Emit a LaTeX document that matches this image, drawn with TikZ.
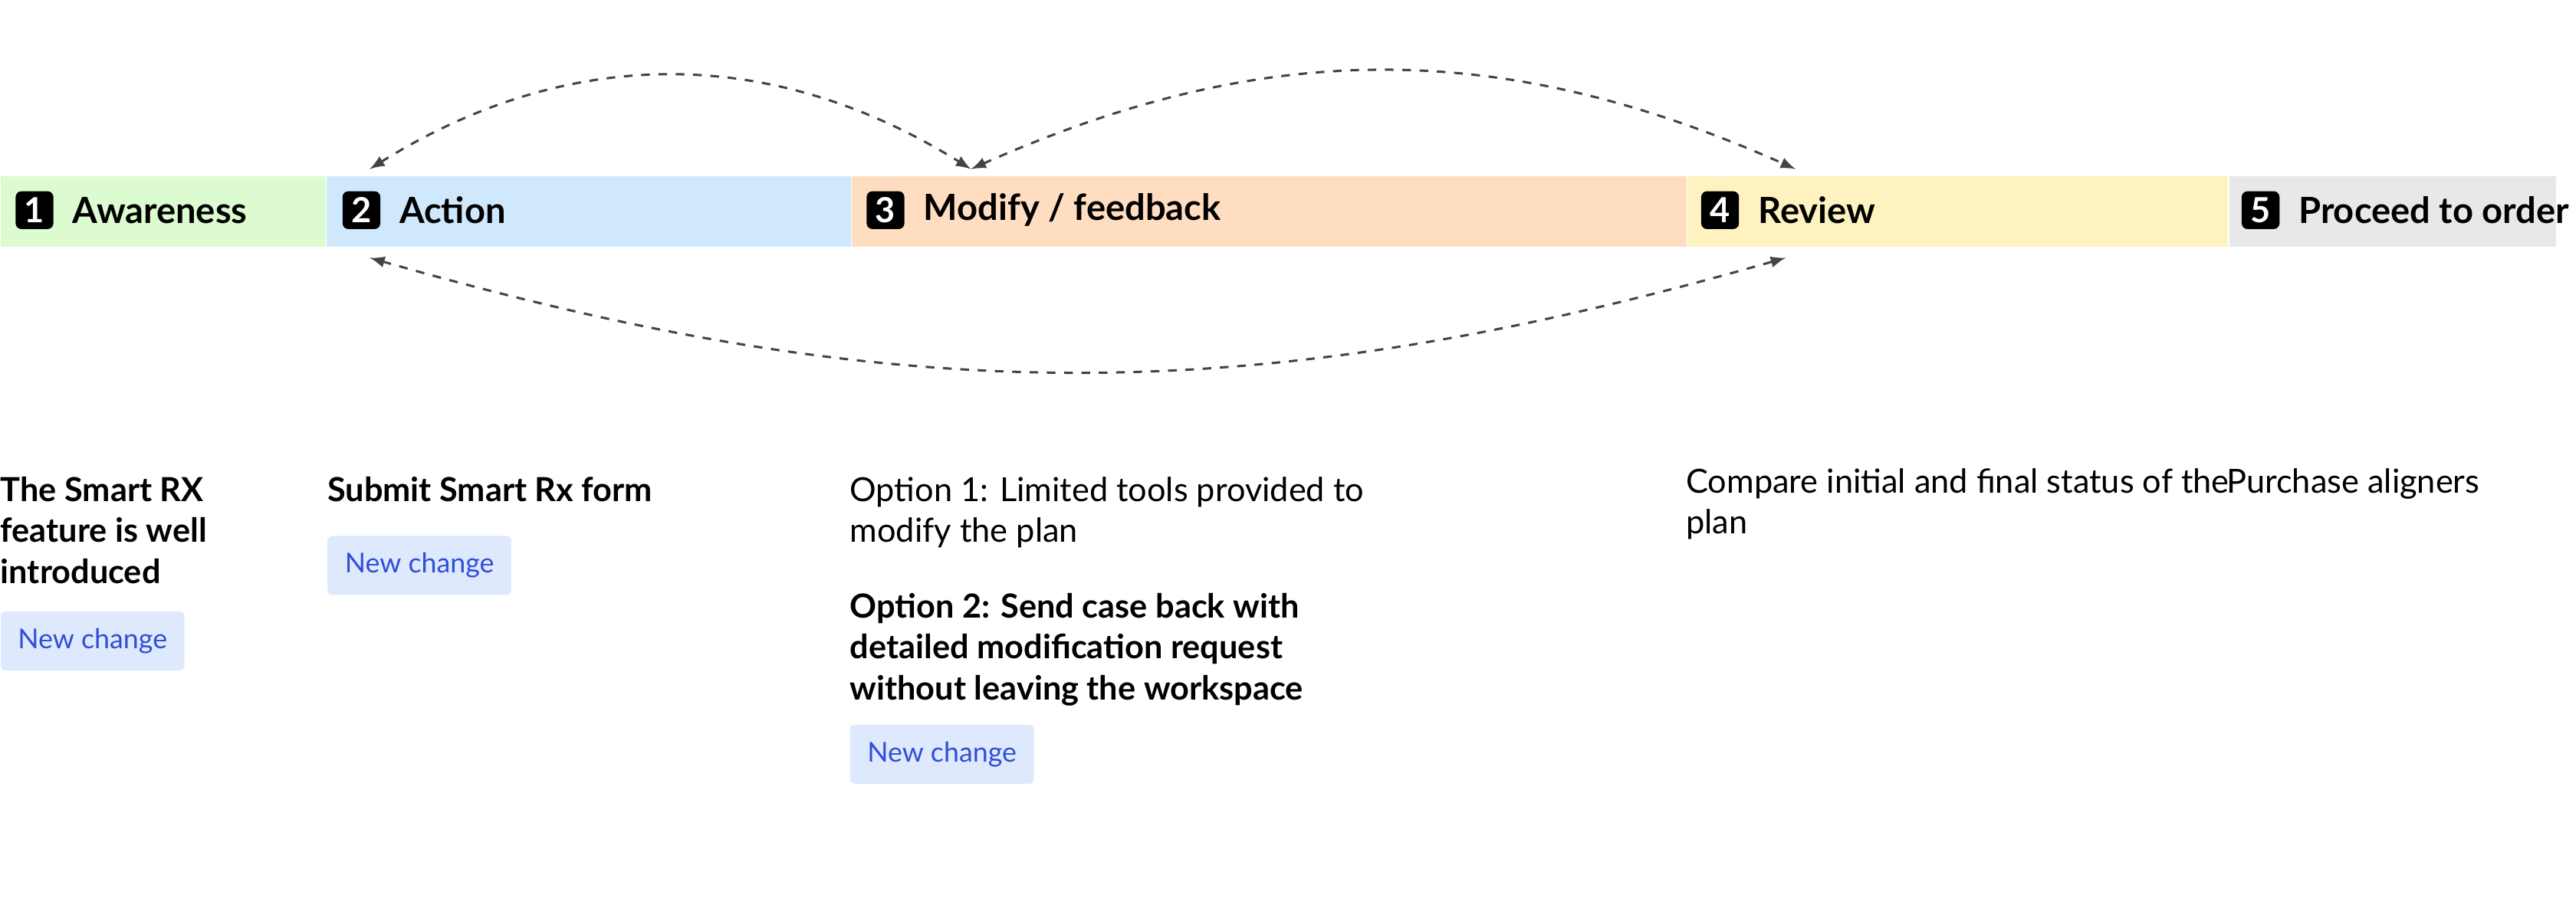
\documentclass[tikz,border=0pt]{standalone}
\usepackage{fontspec}
\setmainfont{Lato}
\usetikzlibrary{positioning}
\definecolor{cGreen}{HTML}{DDFBD0}
\definecolor{cBlue}{HTML}{CFE8FC}
\definecolor{cOrange}{HTML}{FEDDC0}
\definecolor{cYellow}{HTML}{FEF3C0}
\definecolor{cGray}{HTML}{E8E8E8}
\definecolor{tagFill}{HTML}{DFE9FD}
\definecolor{tagText}{HTML}{2F4FD6}
\definecolor{linkGray}{HTML}{444444}
\begin{document}
\begin{tikzpicture}[x=0.02cm,y=-0.02cm,
		node distance=0pt,
		stage/.style={rectangle, minimum height=0.86cm, inner sep=0pt, anchor=north west},
		badge/.style={rectangle, fill=black, rounded corners=2pt, minimum size=0.46cm, inner sep=0pt, text=white, font=\fontsize{12}{12}\selectfont\bfseries},
		title/.style={font=\fontsize{12.5}{14}\selectfont\bfseries, inner sep=0pt, anchor=west},
		desc/.style={anchor=north west, inner sep=0pt, align=left, font=\fontsize{11.5}{14.2}\selectfont},
		tag/.style={rectangle, fill=tagFill, rounded corners=1.5pt, minimum width=2.24cm, minimum height=0.72cm, text=tagText, font=\fontsize{9.5}{10}\selectfont, anchor=north west},
		link/.style={<->, >=latex, dashed, thick, linkGray}
		]
		\useasboundingbox (0,0) rectangle (1568,553);
		% stage band
		\node[stage, fill=cGreen, minimum width=3.96cm] (s1) at (0,107) {};
		\node[stage, fill=cBlue, minimum width=6.38cm, right=of s1] (s2) {};
		\node[stage, fill=cOrange, minimum width=10.16cm, right=of s2] (s3) {};
		\node[stage, fill=cYellow, minimum width=6.58cm, right=of s3] (s4) {};
		\node[stage, fill=cGray, minimum width=3.98cm, right=of s4] (s5) {};
		% badges and titles
		\node[badge] (b1) at (21,128) {1};
		\node[badge] (b2) at (220,128) {2};
		\node[badge] (b3) at (539,128) {3};
		\node[badge] (b4) at (1047,128) {4};
		\node[badge] (b5) at (1376,128) {5};
		\node[title, right=0.22cm of b1] (t1) {Awareness};
		\node[title, right=0.22cm of b2] (t2) {Action};
		\node[title, right=0.22cm of b3] (t3) {Modify / feedback};
		\node[title, right=0.22cm of b4] (t4) {Review};
		\node[title, right=0.22cm of b5] (t5) {Proceed to order};
		% arrow end points
		\coordinate (a2top) at (225,103);
		\coordinate (a3top) at (591,103);
		\coordinate (a4top) at (1093,103);
		\coordinate (a2bot) at (225,157);
		\coordinate (a4bot) at (1087,157);
		\draw[link] (a2top) to[bend left=32] (a3top);
		\draw[link] (a3top) to[bend left=24] (a4top);
		\draw[link] (a2bot) to[bend right=16] (a4bot);
		% descriptions
		\node[desc, font=\fontsize{11.5}{14.2}\selectfont\bfseries] (d1) at (0,290) {The Smart RX\\feature is well\\introduced};
		\node[tag] (g1) at (0,372) {New change};
		\node[desc, font=\fontsize{11.5}{14.2}\selectfont\bfseries] (d2) at (199,290) {Submit Smart Rx form};
		\node[tag] (g2) at (199,326) {New change};
		\node[desc] (d3a) at (517,290) {Option 1: Limited tools provided to\\modify the plan};
		\node[desc, font=\fontsize{11.5}{14.2}\selectfont\bfseries] (d3b) at (517,361) {Option 2: Send case back with\\detailed modification request\\without leaving the workspace};
		\node[tag] (g3) at (517,441) {New change};
		\node[desc] (d4) at (1026,285) {Compare initial and final status of the\\plan};
		\node[desc] (d5) at (1355,285) {Purchase aligners};
	\end{tikzpicture}
\end{document}
